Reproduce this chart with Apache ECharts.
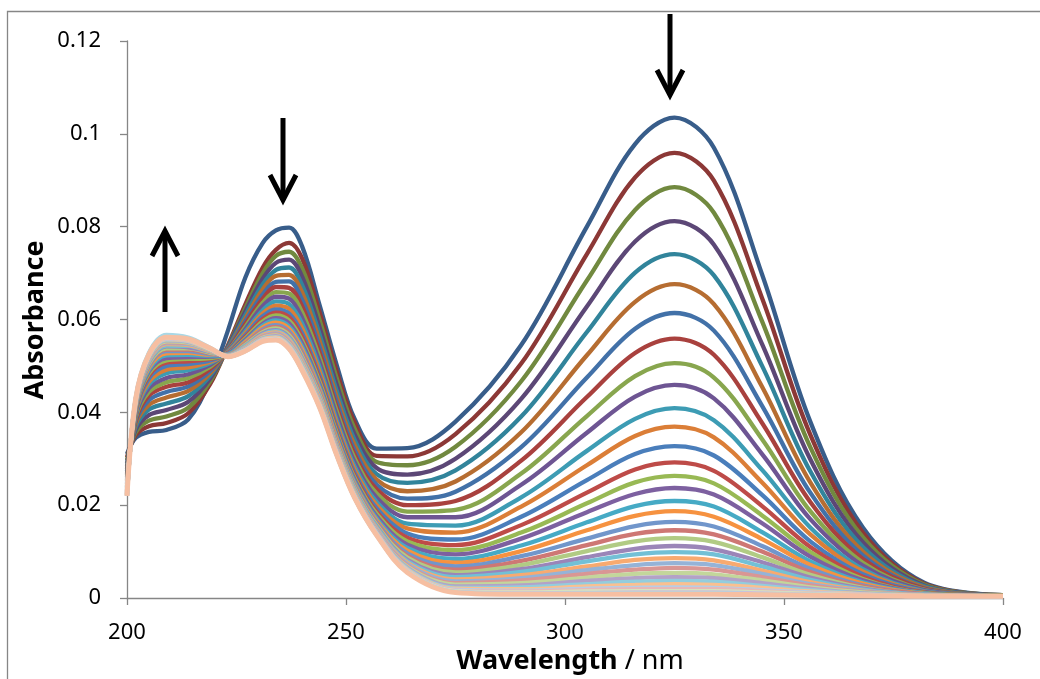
<!DOCTYPE html>
<html><head><meta charset="utf-8">
<script src="https://cdn.jsdelivr.net/npm/echarts@6/dist/echarts.min.js"></script>
<style>html,body{margin:0;padding:0;background:#fff}#c{width:1040px;height:679px}</style>
</head><body><div id="c"></div>
<script>
const wavelength = [200,202,205,209,214,219,223,227,231,234,237,240,244,248,252,257,264,275,290,305,316,325,334,345,356,368,382,400];
const abs01 = [.0310,.0345,.0358,.0362,.0385,.0470,.0575,.0690,.0765,.0792,.0798,.0757,.0630,.0498,.0385,.0322,.0323,.0380,.0545,.0800,.0978,.1035,.0970,.0697,.0380,.0152,.0033,.0006];
const abs02 = [.0303,.0351,.0370,.0377,.0398,.0461,.0543,.0632,.0712,.0750,.0765,.0731,.0614,.0484,.0377,.0306,.0305,.0353,.0505,.0741,.0906,.0959,.0899,.0646,.0352,.0141,.0031,.0006];
const abs03 = [.0297,.0357,.0382,.0391,.0410,.0467,.0541,.0624,.0700,.0737,.0746,.0710,.0598,.0470,.0364,.0293,.0286,.0326,.0467,.0684,.0836,.0885,.0830,.0596,.0325,.0131,.0029,.0006];
const abs04 = [.0290,.0363,.0394,.0405,.0423,.0473,.0540,.0617,.0688,.0722,.0729,.0692,.0582,.0456,.0352,.0280,.0266,.0300,.0429,.0628,.0768,.0812,.0761,.0547,.0299,.0120,.0027,.0006];
const abs05 = [.0284,.0369,.0406,.0419,.0435,.0479,.0538,.0609,.0676,.0707,.0712,.0674,.0567,.0443,.0340,.0267,.0248,.0275,.0391,.0573,.0701,.0741,.0695,.0500,.0273,.0110,.0025,.0005];
const abs06 = [.0278,.0375,.0416,.0432,.0446,.0484,.0536,.0602,.0665,.0694,.0696,.0658,.0553,.0430,.0329,.0255,.0230,.0251,.0357,.0523,.0638,.0676,.0633,.0455,.0249,.0100,.0023,.0005];
const abs07 = [.0273,.0380,.0426,.0444,.0456,.0489,.0535,.0596,.0654,.0681,.0682,.0642,.0540,.0419,.0318,.0244,.0214,.0229,.0325,.0475,.0580,.0614,.0576,.0414,.0227,.0092,.0021,.0005];
const abs08 = [.0268,.0384,.0436,.0455,.0465,.0494,.0533,.0590,.0645,.0670,.0668,.0628,.0528,.0408,.0309,.0234,.0200,.0209,.0296,.0433,.0528,.0559,.0524,.0377,.0207,.0084,.0020,.0005];
const abs09 = [.0264,.0389,.0444,.0465,.0474,.0498,.0532,.0584,.0636,.0659,.0656,.0615,.0517,.0399,.0300,.0225,.0186,.0190,.0268,.0392,.0478,.0506,.0475,.0342,.0187,.0076,.0018,.0005];
const abs10 = [.0260,.0393,.0452,.0474,.0482,.0502,.0531,.0579,.0629,.0649,.0645,.0603,.0507,.0390,.0292,.0216,.0174,.0174,.0244,.0356,.0434,.0459,.0430,.0310,.0170,.0070,.0017,.0005];
const abs11 = [.0255,.0397,.0460,.0484,.0491,.0506,.0530,.0574,.0620,.0639,.0633,.0591,.0496,.0380,.0283,.0207,.0160,.0156,.0217,.0317,.0386,.0409,.0383,.0276,.0152,.0062,.0015,.0005];
const abs12 = [.0252,.0400,.0466,.0492,.0497,.0509,.0529,.0570,.0613,.0630,.0623,.0581,.0487,.0373,.0276,.0200,.0150,.0141,.0197,.0286,.0349,.0369,.0346,.0249,.0137,.0057,.0014,.0005];
const abs13 = [.0248,.0404,.0473,.0500,.0504,.0512,.0528,.0566,.0607,.0622,.0613,.0570,.0478,.0365,.0269,.0193,.0139,.0126,.0175,.0254,.0310,.0327,.0307,.0222,.0122,.0051,.0013,.0005];
const abs14 = [.0245,.0407,.0479,.0507,.0510,.0515,.0527,.0562,.0601,.0615,.0605,.0562,.0471,.0358,.0263,.0186,.0130,.0114,.0157,.0227,.0277,.0292,.0274,.0198,.0110,.0046,.0012,.0005];
const abs15 = [.0242,.0409,.0484,.0512,.0515,.0517,.0526,.0559,.0596,.0609,.0598,.0554,.0465,.0353,.0258,.0181,.0122,.0103,.0141,.0204,.0249,.0263,.0247,.0178,.0099,.0041,.0011,.0005];
const abs16 = [.0240,.0411,.0488,.0517,.0519,.0520,.0526,.0556,.0591,.0603,.0592,.0548,.0459,.0348,.0254,.0176,.0115,.0094,.0128,.0185,.0224,.0237,.0223,.0161,.0089,.0038,.0010,.0004];
const abs17 = [.0238,.0413,.0492,.0523,.0524,.0522,.0525,.0553,.0587,.0598,.0585,.0541,.0453,.0343,.0249,.0171,.0108,.0084,.0113,.0163,.0198,.0209,.0197,.0142,.0079,.0034,.0010,.0004];
const abs18 = [.0236,.0415,.0496,.0527,.0528,.0524,.0524,.0551,.0583,.0593,.0580,.0535,.0448,.0339,.0245,.0167,.0102,.0076,.0101,.0146,.0177,.0187,.0175,.0127,.0071,.0031,.0009,.0004];
const abs19 = [.0234,.0417,.0500,.0532,.0532,.0525,.0524,.0548,.0579,.0588,.0574,.0529,.0443,.0334,.0242,.0163,.0096,.0068,.0090,.0128,.0155,.0164,.0154,.0112,.0063,.0027,.0008,.0004];
const abs20 = [.0232,.0419,.0503,.0535,.0535,.0527,.0523,.0547,.0576,.0584,.0570,.0525,.0440,.0331,.0238,.0160,.0091,.0061,.0080,.0114,.0138,.0146,.0137,.0100,.0056,.0025,.0008,.0004];
const abs21 = [.0231,.0420,.0505,.0538,.0538,.0528,.0523,.0545,.0573,.0581,.0566,.0520,.0436,.0328,.0236,.0157,.0087,.0055,.0071,.0101,.0122,.0129,.0121,.0088,.0050,.0022,.0007,.0004];
const abs22 = [.0229,.0421,.0508,.0542,.0540,.0530,.0522,.0543,.0570,.0577,.0562,.0516,.0432,.0324,.0233,.0154,.0082,.0049,.0062,.0088,.0106,.0112,.0105,.0077,.0044,.0020,.0007,.0004];
const abs23 = [.0228,.0422,.0510,.0544,.0543,.0531,.0522,.0542,.0568,.0575,.0559,.0513,.0430,.0322,.0231,.0152,.0079,.0045,.0056,.0079,.0094,.0099,.0094,.0068,.0039,.0018,.0007,.0004];
const abs24 = [.0227,.0424,.0512,.0547,.0545,.0532,.0522,.0540,.0566,.0572,.0556,.0510,.0427,.0320,.0228,.0149,.0076,.0040,.0049,.0068,.0082,.0086,.0081,.0059,.0034,.0016,.0006,.0004];
const abs25 = [.0226,.0425,.0514,.0549,.0547,.0533,.0522,.0539,.0564,.0570,.0553,.0507,.0424,.0318,.0226,.0147,.0073,.0036,.0043,.0060,.0071,.0075,.0071,.0052,.0030,.0015,.0006,.0004];
const abs26 = [.0225,.0425,.0516,.0551,.0549,.0533,.0521,.0538,.0563,.0568,.0551,.0504,.0422,.0316,.0225,.0145,.0070,.0032,.0038,.0052,.0061,.0065,.0061,.0045,.0027,.0013,.0006,.0004];
const abs27 = [.0224,.0426,.0518,.0553,.0550,.0534,.0521,.0537,.0561,.0566,.0548,.0502,.0420,.0314,.0223,.0143,.0067,.0029,.0032,.0044,.0052,.0054,.0051,.0038,.0023,.0012,.0005,.0004];
const abs28 = [.0223,.0427,.0519,.0555,.0552,.0535,.0521,.0536,.0559,.0564,.0546,.0499,.0418,.0312,.0221,.0142,.0065,.0025,.0027,.0037,.0043,.0045,.0043,.0032,.0020,.0010,.0005,.0004];
const abs29 = [.0223,.0428,.0520,.0556,.0553,.0536,.0521,.0535,.0558,.0562,.0544,.0497,.0416,.0310,.0220,.0140,.0063,.0022,.0023,.0030,.0035,.0037,.0035,.0026,.0017,.0009,.0005,.0004];
const abs30 = [.0222,.0428,.0522,.0558,.0554,.0536,.0521,.0534,.0557,.0561,.0542,.0495,.0415,.0309,.0219,.0139,.0061,.0020,.0019,.0025,.0028,.0030,.0028,.0022,.0014,.0008,.0005,.0004];
const abs31 = [.0221,.0429,.0523,.0559,.0555,.0537,.0520,.0534,.0556,.0559,.0541,.0494,.0413,.0308,.0218,.0138,.0059,.0018,.0016,.0020,.0022,.0023,.0022,.0017,.0012,.0007,.0004,.0004];
const abs32 = [.0221,.0429,.0523,.0560,.0556,.0537,.0520,.0533,.0555,.0558,.0540,.0493,.0412,.0307,.0217,.0137,.0058,.0016,.0014,.0017,.0019,.0019,.0019,.0015,.0010,.0007,.0004,.0004];
const abs33 = [.0221,.0429,.0524,.0561,.0557,.0537,.0520,.0533,.0554,.0558,.0539,.0492,.0412,.0306,.0216,.0136,.0057,.0015,.0012,.0014,.0015,.0015,.0015,.0012,.0009,.0006,.0004,.0004];
const abs34 = [.0220,.0430,.0526,.0564,.0559,.0538,.0520,.0532,.0554,.0557,.0538,.0491,.0411,.0306,.0216,.0136,.0056,.0013,.0010,.0011,.0012,.0012,.0012,.0010,.0007,.0006,.0004,.0004];
const abs35 = [.0220,.0431,.0528,.0567,.0561,.0539,.0520,.0532,.0553,.0556,.0537,.0490,.0410,.0305,.0215,.0135,.0056,.0013,.0009,.0010,.0010,.0010,.0010,.0008,.0007,.0005,.0004,.0004];
const abs36 = [.0220,.0430,.0525,.0562,.0558,.0538,.0520,.0532,.0553,.0556,.0537,.0490,.0410,.0305,.0215,.0135,.0055,.0012,.0008,.0008,.0008,.0008,.0008,.0007,.0006,.0005,.0004,.0004];

const spectra = [abs01,abs02,abs03,abs04,abs05,abs06,abs07,abs08,abs09,abs10,abs11,abs12,abs13,abs14,abs15,abs16,abs17,abs18,
  abs19,abs20,abs21,abs22,abs23,abs24,abs25,abs26,abs27,abs28,abs29,abs30,abs31,abs32,abs33,abs34,abs35,abs36];

const seriesColors = [
  '#385D8A','#8C3836','#71893F','#5C4776','#31849B','#B66D31',
  '#4271A8','#A9413E','#88A64E','#6E5593','#3D9CB4','#DB7E37',
  '#4A7EBB','#BE4B48','#98B954','#7D60A0','#46AAC5','#F69240',
  '#7196CB','#CE7774','#B1CB84','#9B85B8','#72C0D6','#F8AA70',
  '#95B3D7','#D99694','#C3D69B','#B3A2C7','#93CDDD','#FAC090',
  '#B9CDE5','#E6B9B8','#D7E4BD','#CCC1DA','#A9D8E6','#F6BFA2'];

const xAxisTitle = 'Wavelength';
const xAxisUnit = ' / nm';
const yAxisTitle = 'Absorbance';

const FONT = '"Noto Sans", "Open Sans", sans-serif';
const chart = echarts.init(document.getElementById('c'), null, {renderer: 'canvas'});

const series = spectra.map((arr, k) => ({
  type: 'line',
  name: 'S' + (k + 1),
  data: wavelength.map((w, i) => [w, arr[i]]),
  showSymbol: false,
  symbol: 'none',
  smooth: 0.35,
  lineStyle: {width: k === spectra.length - 1 ? 5 : 4.3, color: seriesColors[k]},
  itemStyle: {color: seriesColors[k]},
  z: 2,
  silent: true
}));

function arrowGraphic(x, yStart, yTip) {
  const dir = yTip > yStart ? 1 : -1;
  const tipAdj = yTip - dir * 5;
  return {
    type: 'group',
    children: [
      {type: 'line', shape: {x1: x, y1: yStart, x2: x, y2: tipAdj - dir * 2},
       style: {stroke: '#000', lineWidth: 5}},
      {type: 'polyline', shape: {points: [[x - 13, tipAdj - dir * 25], [x, tipAdj], [x + 13, tipAdj - dir * 25]]},
       style: {stroke: '#000', lineWidth: 5, fill: null, lineJoin: 'miter', miterLimit: 10}}
    ],
    z: 100
  };
}

chart.setOption({
  animation: false,
  backgroundColor: '#fff',
  grid: {left: 127, right: 37, top: 41, bottom: 81, containLabel: false},
  xAxis: {
    type: 'value', min: 200, max: 400, interval: 50,
    axisLine: {show: true, onZero: false, lineStyle: {color: '#868686', width: 1.3}},
    axisTick: {show: true, length: 7, lineStyle: {color: '#868686', width: 1.3}},
    axisLabel: {color: '#000', fontSize: 22, fontFamily: FONT, margin: 24},
    splitLine: {show: false}
  },
  yAxis: {
    type: 'value', min: 0, max: 0.12, interval: 0.02,
    axisLine: {show: true, lineStyle: {color: '#868686', width: 1.3}},
    axisTick: {show: true, length: 7, lineStyle: {color: '#868686', width: 1.3}},
    axisLabel: {color: '#000', fontSize: 22, fontFamily: FONT, margin: 26},
    splitLine: {show: false}
  },
  series: series,
  graphic: [
    {type: 'rect', shape: {x: 7.5, y: 11.5, width: 1100, height: 1000},
     style: {fill: null, stroke: '#868686', lineWidth: 1.3}, z: 0, silent: true},
    {type: 'text', x: 35, y: 320, rotation: Math.PI / 2,
     style: {text: yAxisTitle, font: 'bold 27px ' + FONT, fill: '#000', align: 'center', verticalAlign: 'middle'}, z: 100},
    {type: 'text', x: 570, y: 661,
     style: {text: '{b|' + xAxisTitle + '}' + xAxisUnit, font: '27px ' + FONT, fill: '#000', align: 'center', verticalAlign: 'middle',
       rich: {b: {fontWeight: 'bold', fontSize: 27, fontFamily: FONT, fill: '#000'}}}, z: 100},
    arrowGraphic(165, 312, 226),
    arrowGraphic(283, 118, 205),
    arrowGraphic(670, 14, 100)
  ]
});
</script></body></html>
